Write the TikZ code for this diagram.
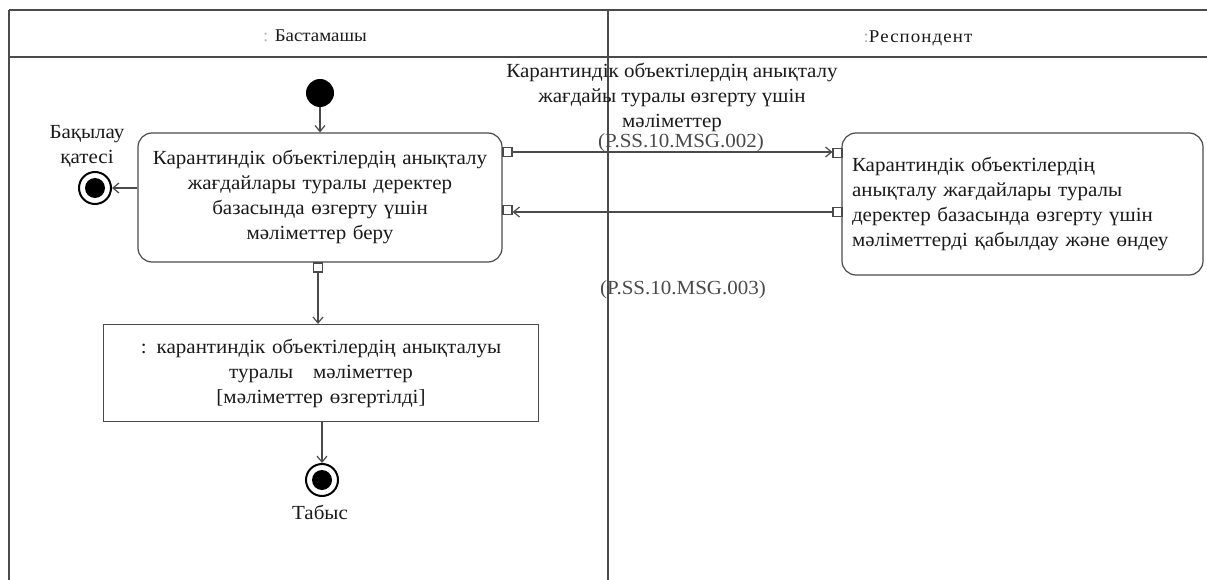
\documentclass[tikz,border=0pt]{standalone}
\usepackage{fontspec}
\setmainfont[FakeStretch=1.05]{Liberation Serif}
\usetikzlibrary{arrows.meta}
\definecolor{ln}{HTML}{4A4A4A}
\definecolor{tx}{HTML}{1A1A1A}
\begin{document}
\begin{tikzpicture}[x=1pt,y=-1pt,
  every node/.style={text=tx,font=\fontsize{20}{25}\selectfont},
  frame/.style={draw=ln,line width=1.4pt},
  act/.style={draw=ln,line width=1.2pt,rounded corners=14pt,inner sep=0pt},
  obj/.style={draw=ln,line width=1.2pt,inner sep=0pt},
  pinbox/.style={draw=ln,line width=1.2pt,fill=white,minimum size=9pt,inner sep=0pt},
  flow/.style={draw=ln,line width=1.2pt,-{Straight Barb[length=6pt,width=10pt]}},
  startnode/.style={circle,fill=black,minimum size=28pt,inner sep=0pt},
  endnode/.style={circle,draw=black,line width=2pt,fill=white,minimum size=32pt,inner sep=0pt,
    path picture={\fill[black] (path picture bounding box.center) circle (10pt);}},
  msg/.style={text=ln}
]
\useasboundingbox (0,0) rectangle (1207,580);
% frame
\draw[frame] (9,10) -- (1207,10);
\draw[frame] (9,57) -- (1207,57);
\draw[frame] (9,10) -- (9,580);
\draw[frame] (608,10) -- (608,580);
\node[font=\fontsize{18}{22}\selectfont] (h1) at (315,36) {{\color{gray!60}:} Бастамашы};
\node[font=\fontsize{18}{22}\selectfont\addfontfeature{LetterSpace=6}] (h2) at (918,38) {{\color{gray!60}:}Респондент};

% initial
\node[startnode] (init) at (320,93) {};
% activity A
\node[act,minimum width=364pt,minimum height=129pt,text width=356pt,align=center] (A) at (320,197.5)
  {Карантиндік объектілердің анықталу\\жағдайлары туралы деректер\\базасында өзгерту үшін\\мәліметтер беру};
% activity B
\node[act,minimum width=361pt,minimum height=142pt,text width=341pt,align=left] (B) at (1022.5,204)
  {Карантиндік объектілердің\\анықталу жағдайлары туралы\\деректер базасында өзгерту үшін\\мәліметтерді қабылдау және өндеу\\[-2pt]};
% object C
\node[obj,minimum width=435pt,minimum height=97pt,text width=425pt,align=center] (C) at (321,373)
  {: карантиндік объектілердің анықталуы\\туралы \ \ мәліметтер\\{}[мәліметтер өзгертілді]};
% pins
\node[pinbox] (pA1) at (507.5,152) {};
\node[pinbox] (pA2) at (507.5,210) {};
\node[pinbox] (pA3) at (318,267.5) {};
\node[pinbox] (pB1) at (837.5,153) {};
\node[pinbox] (pB2) at (837.5,212) {};
% final nodes
\node[endnode] (err) at (95,188) {};
\node[align=center] (errl) at (87,146) {Бақылау\\қатесі};
\node[endnode] (fin) at (322,480) {};
\node (finl) at (320,512) {Табыс};

% flows
\draw[flow] (init) -- (A.north -| init);
\draw[flow] (A.west |- err) -- (err);
\draw[flow] (pA3) -- (C.north -| pA3);
\draw[flow] (C.south -| fin) -- (fin);
\draw[flow] (pA1) -- (pB1.west |- pA1);
\draw[flow] (pB2.west) -- (pA2.east |- pB2.west);

% message labels
\node[align=center] (m1) at (672,97) {Карантиндік объектілердің анықталу\\жағдайы туралы өзгерту үшін\\мәліметтер};
\node[msg] (m1c) at (681,143) {(P.SS.10.MSG.002)};
\node[msg] (m2c) at (683,290) {(P.SS.10.MSG.003)};
\end{tikzpicture}
\end{document}
